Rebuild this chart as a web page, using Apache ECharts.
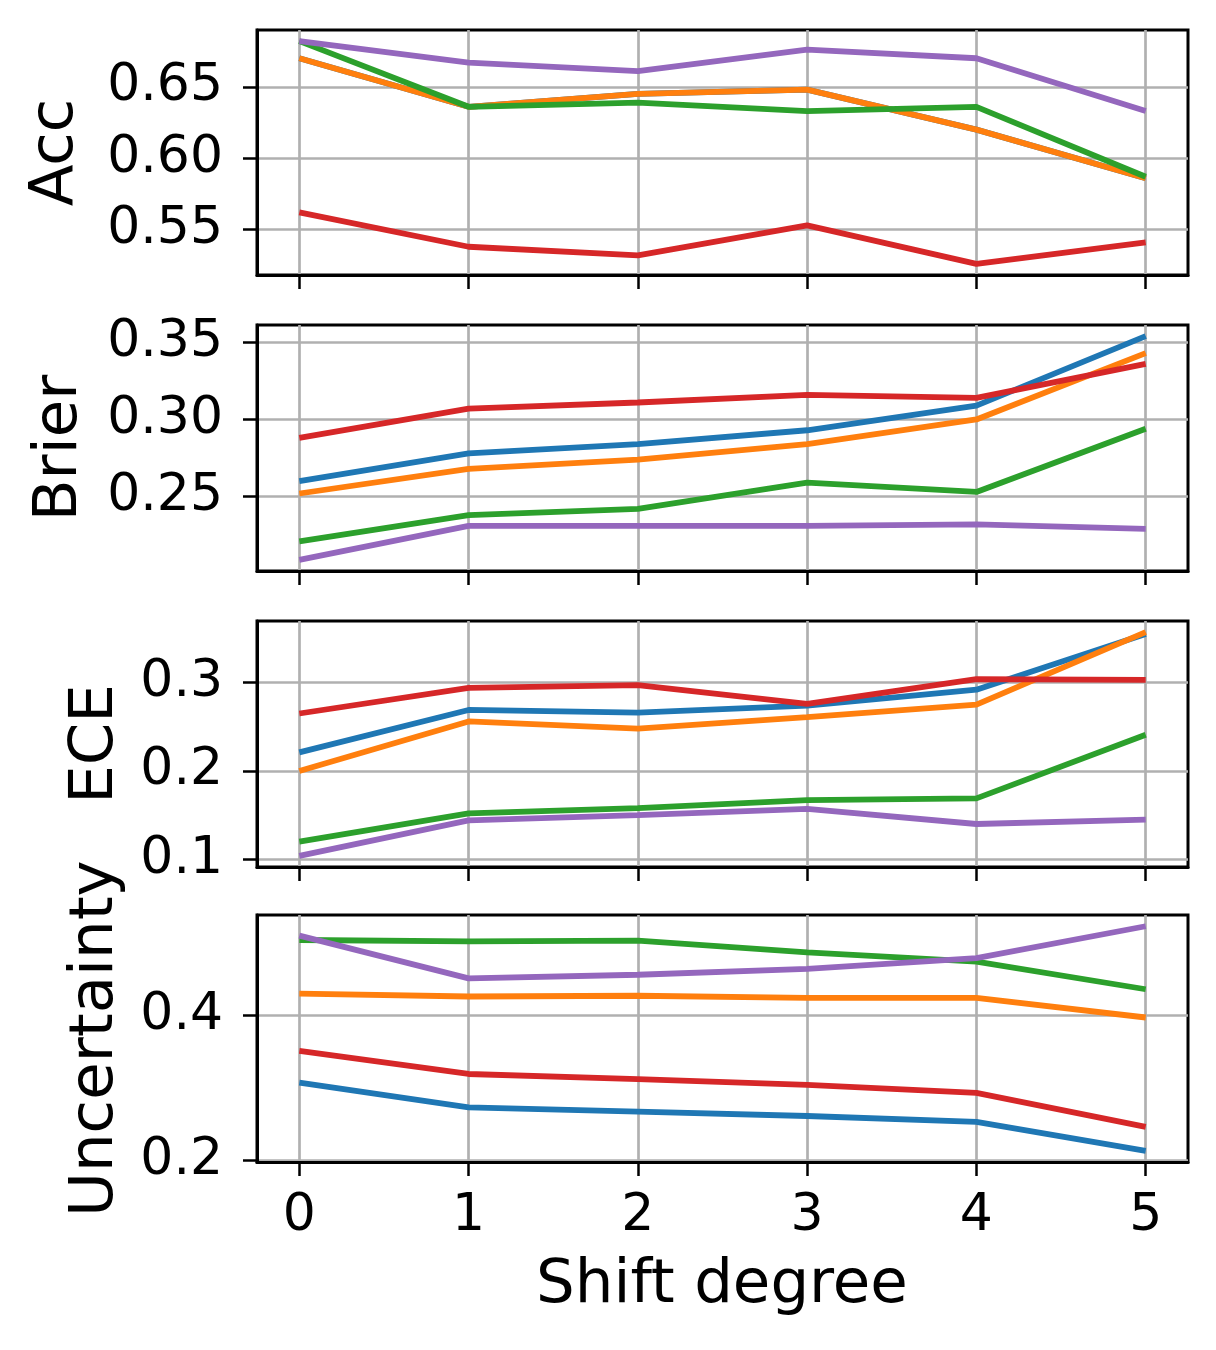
<!DOCTYPE html>
<html>
<head>
<meta charset="utf-8">
<script src="https://cdn.jsdelivr.net/npm/echarts@6/dist/echarts.min.js"></script>
<style>
  html, body { margin: 0; padding: 0; background: #fff; }
  #chart { width: 1216px; height: 1350px; }
</style>
</head>
<body>
<div id="chart"></div>
<script>
var shiftDegrees = [0, 1, 2, 3, 4, 5];
var xTicks = [0, 1, 2, 3, 4, 5];

// Acc
var accBlue = [0.670, 0.636, 0.645, 0.648, 0.620, 0.586];
var accOrange = [0.670, 0.636, 0.645, 0.648, 0.620, 0.586];
var accGreen = [0.682, 0.636, 0.639, 0.633, 0.636, 0.587];
var accRed = [0.562, 0.538, 0.532, 0.553, 0.526, 0.541];
var accPurple = [0.682, 0.667, 0.661, 0.676, 0.670, 0.633];
var accTicks = [0.55, 0.60, 0.65];

// Brier
var brierBlue = [0.260, 0.278, 0.284, 0.293, 0.309, 0.354];
var brierOrange = [0.252, 0.268, 0.274, 0.284, 0.300, 0.343];
var brierGreen = [0.221, 0.238, 0.242, 0.259, 0.253, 0.294];
var brierRed = [0.288, 0.307, 0.311, 0.316, 0.314, 0.336];
var brierPurple = [0.209, 0.231, 0.231, 0.231, 0.232, 0.229];
var brierTicks = [0.25, 0.30, 0.35];

// ECE
var eceBlue = [0.221, 0.269, 0.266, 0.274, 0.292, 0.355];
var eceOrange = [0.200, 0.256, 0.248, 0.261, 0.275, 0.357];
var eceGreen = [0.120, 0.152, 0.158, 0.167, 0.169, 0.241];
var eceRed = [0.265, 0.294, 0.297, 0.276, 0.304, 0.303];
var ecePurple = [0.104, 0.144, 0.150, 0.157, 0.140, 0.145];
var eceTicks = [0.1, 0.2, 0.3];

// Uncertainty
var uncBlue = [0.307, 0.273, 0.267, 0.261, 0.253, 0.213];
var uncOrange = [0.430, 0.426, 0.427, 0.424, 0.424, 0.397];
var uncGreen = [0.504, 0.502, 0.503, 0.487, 0.474, 0.436];
var uncRed = [0.351, 0.319, 0.312, 0.304, 0.293, 0.246];
var uncPurple = [0.510, 0.451, 0.456, 0.464, 0.479, 0.523];
var uncTicks = [0.2, 0.4];

var colors = ['#1f77b4', '#ff7f0e', '#2ca02c', '#d62728', '#9467bd'];
var font = 'DejaVu Sans';

var panels = [
    { label: 'Acc', ticks: accTicks, digits: 2, top: 30, height: 245, labelX: 56,
      lines: [accBlue, accOrange, accGreen, accRed, accPurple] },
    { label: 'Brier', ticks: brierTicks, digits: 2, top: 325, height: 246, labelX: 60,
      lines: [brierBlue, brierOrange, brierGreen, brierRed, brierPurple] },
    { label: 'ECE', ticks: eceTicks, digits: 1, top: 621, height: 246, labelX: 96,
      lines: [eceBlue, eceOrange, eceGreen, eceRed, ecePurple] },
    { label: 'Uncertainty', ticks: uncTicks, digits: 1, top: 915, height: 247, labelX: 96,
      lines: [uncBlue, uncOrange, uncGreen, uncRed, uncPurple] }
];

var grids = [], xAxes = [], yAxes = [], series = [], graphics = [];

panels.forEach(function (p, i) {
    var all = [].concat.apply([], p.lines);
    var lo = Math.min.apply(null, all), hi = Math.max.apply(null, all);
    var pad = (hi - lo) * 0.05;
    var last = i === panels.length - 1;

    grids.push({
        left: 257, right: 28, top: p.top, height: p.height,
        containLabel: false, outerBoundsMode: 'none',
        show: true, borderColor: '#000', borderWidth: 3, backgroundColor: '#fff'
    });

    xAxes.push({
        type: 'value', gridIndex: i, min: -0.25, max: 5.25,
        axisLine: { show: true, onZero: false, lineStyle: { color: '#000', width: 3 } },
        axisTick: { show: true, inside: false, length: 14, customValues: xTicks,
                    lineStyle: { color: '#000', width: 2.5 } },
        axisLabel: { show: last, customValues: xTicks, margin: 28, color: '#000',
                     fontFamily: font, fontSize: 52 },
        splitLine: { show: true, lineStyle: { color: '#b0b0b0', width: 2.7 } }
    });

    yAxes.push({
        type: 'value', gridIndex: i, min: lo - pad, max: hi + pad,
        axisLine: { show: true, onZero: false, lineStyle: { color: '#000', width: 3 } },
        axisTick: { show: true, inside: false, length: 14, customValues: p.ticks,
                    lineStyle: { color: '#000', width: 2.5 } },
        axisLabel: { show: true, customValues: p.ticks, margin: 34, color: '#000',
                     fontFamily: font, fontSize: 52,
                     formatter: (function (d) { return function (v) { return v.toFixed(d); }; })(p.digits) },
        splitLine: { show: true, lineStyle: { color: '#b0b0b0', width: 2.7 } }
    });

    p.lines.forEach(function (vals, k) {
        series.push({
            type: 'line', xAxisIndex: i, yAxisIndex: i,
            data: shiftDegrees.map(function (x, j) { return [x, vals[j]]; }),
            showSymbol: false, symbol: 'none',
            lineStyle: { color: colors[k], width: 5.8 },
            itemStyle: { color: colors[k] },
            z: 3 + k
        });
    });

    graphics.push({
        type: 'text', x: p.labelX, y: p.top + p.height / 2, rotation: Math.PI / 2,
        style: { text: p.label, fontFamily: font, fontSize: 61, fill: '#000',
                 textAlign: 'center', textVerticalAlign: 'middle' }
    });
});

graphics.push({
    type: 'text', x: 722, y: 1286,
    style: { text: 'Shift degree', fontFamily: font, fontSize: 61, fill: '#000',
             textAlign: 'center', textVerticalAlign: 'middle' }
});

var chart = echarts.init(document.getElementById('chart'), null, { renderer: 'canvas' });
chart.setOption({
    animation: false,
    backgroundColor: '#fff',
    grid: grids,
    xAxis: xAxes,
    yAxis: yAxes,
    series: series,
    graphic: graphics
});
</script>
</body>
</html>
